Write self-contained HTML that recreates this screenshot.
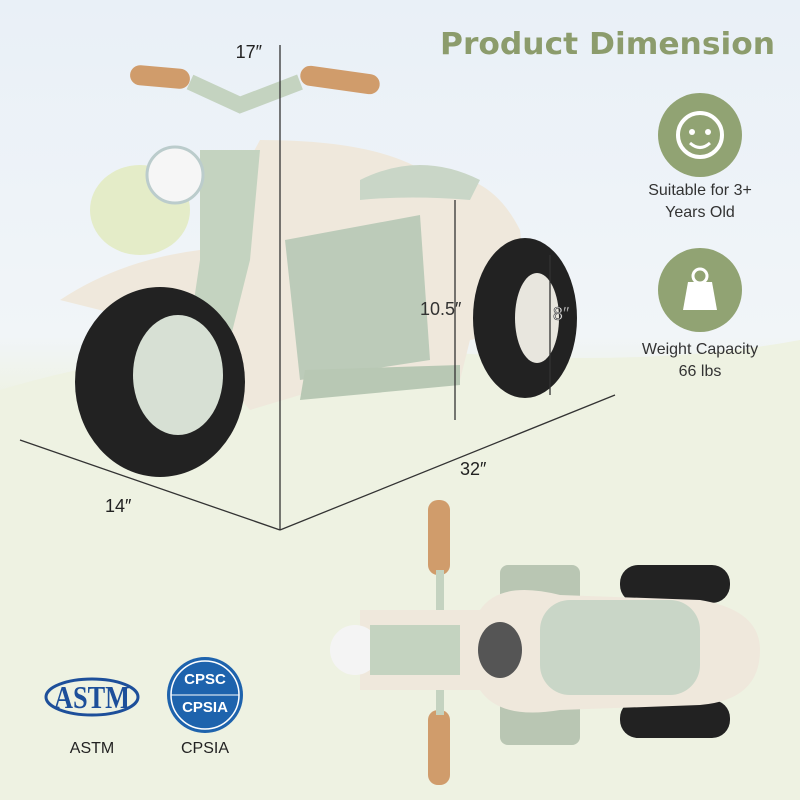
<!DOCTYPE html>
<html><head><meta charset="utf-8"><style>
body{margin:0;width:800px;height:800px;overflow:hidden;font-family:"Liberation Sans",sans-serif;}
</style></head><body>
<svg width="800" height="800" viewBox="0 0 800 800" xmlns="http://www.w3.org/2000/svg">
<defs>
<linearGradient id="bg" x1="0" y1="0" x2="0" y2="1">
<stop offset="0" stop-color="#e9f0f7"/><stop offset="0.42" stop-color="#f1f5f8"/><stop offset="0.5" stop-color="#eef2e3"/><stop offset="1" stop-color="#f3f5ec"/>
</linearGradient>
</defs>
<rect width="800" height="800" fill="url(#bg)"/>
<ellipse cx="140" cy="210" rx="50" ry="45" fill="#e4ecc8"/>
<path d="M0 390 Q200 330 420 350 T800 340 L800 800 L0 800Z" fill="#eef2e2"/>
<text x="440" y="54" font-size="30" font-weight="bold" fill="#8c9c6c" font-family="DejaVu Sans,sans-serif" textLength="335" lengthAdjust="spacingAndGlyphs">Product Dimension</text>
<!-- icons -->
<circle cx="700" cy="135" r="42" fill="#91a373"/>
<circle cx="700" cy="135" r="22" fill="none" stroke="#fff" stroke-width="4"/>
<circle cx="692" cy="132" r="3" fill="#fff"/><circle cx="708" cy="132" r="3" fill="#fff"/>
<path d="M690 143 Q700 152 710 143" stroke="#fff" stroke-width="3" fill="none"/>
<text x="700" y="195" font-size="16" fill="#333" text-anchor="middle">Suitable for 3+</text>
<text x="700" y="217" font-size="16" fill="#333" text-anchor="middle">Years Old</text>
<circle cx="700" cy="290" r="42" fill="#91a373"/>
<path d="M683 310 L688 282 L712 282 L717 310Z" fill="#fff"/>
<circle cx="700" cy="276" r="7" fill="none" stroke="#fff" stroke-width="3"/>
<text x="700" y="354" font-size="16" fill="#333" text-anchor="middle">Weight Capacity</text>
<text x="700" y="376" font-size="16" fill="#333" text-anchor="middle">66 lbs</text>
<!-- motorcycle -->
<path d="M60 300 Q120 260 200 250 L260 140 Q380 140 430 175 Q490 170 520 230 L530 330 L470 340 L460 380 L300 395 L250 410 L180 330 Z" fill="#efe8dc"/>
<path d="M360 180 Q420 150 480 180 L470 200 Q410 195 360 200Z" fill="#c9d6c7"/>
<path d="M285 240 L420 215 L430 360 L300 380 Z" fill="#bccbb9"/>
<path d="M305 370 L460 365 L460 385 L300 400Z" fill="#b8c8b4"/>
<path d="M200 150 L260 150 L250 260 L215 400 L180 395 L200 260Z" fill="#c4d3c0"/>
<rect x="130" y="67" width="60" height="20" rx="10" fill="#d09c6b" transform="rotate(5 160 77)"/>
<rect x="300" y="70" width="80" height="20" rx="10" fill="#d09c6b" transform="rotate(8 340 80)"/>
<path d="M190 82 L240 105 L300 82" stroke="#c4d3c0" stroke-width="16" fill="none"/>
<circle cx="175" cy="175" r="28" fill="#f6f6f6" stroke="#bcc" stroke-width="3"/>
<ellipse cx="160" cy="382" rx="85" ry="95" fill="#222"/>
<ellipse cx="178" cy="375" rx="45" ry="60" fill="#d7e0d4"/>
<ellipse cx="525" cy="318" rx="52" ry="80" fill="#222"/>
<ellipse cx="537" cy="318" rx="22" ry="45" fill="#e8e6de"/>
<!-- dimension lines -->
<g stroke="#333" stroke-width="1.3" fill="none">
<line x1="280" y1="45" x2="280" y2="530"/>
<line x1="20" y1="440" x2="280" y2="530"/>
<line x1="280" y1="530" x2="615" y2="395"/>
<line x1="455" y1="200" x2="455" y2="420"/>
<line x1="550" y1="255" x2="550" y2="395"/>
<line x1="492" y1="645" x2="735" y2="645"/>
<line x1="712" y1="585" x2="712" y2="705"/>
</g>
<g font-size="18" fill="#222">
<text x="262" y="58" text-anchor="end">17″</text>
<text x="105" y="512">14″</text>
<text x="460" y="475">32″</text>
<text x="420" y="315" fill="#333">10.5″</text>
<text x="553" y="320" fill="#f4f4f4" stroke="#333" stroke-width="0.6">8″</text>
<text x="686" y="598">6.5″</text>
<text x="724" y="656">11″</text>
</g>
<!-- top view -->
<rect x="428" y="500" width="22" height="75" rx="10" fill="#d09c6b"/>
<rect x="428" y="710" width="22" height="75" rx="10" fill="#d09c6b"/>
<rect x="436" y="570" width="8" height="145" fill="#c4d3c0"/>
<rect x="500" y="565" width="80" height="180" rx="8" fill="#b9c6b3"/>
<rect x="620" y="565" width="110" height="38" rx="18" fill="#222"/>
<rect x="620" y="700" width="110" height="38" rx="18" fill="#222"/>
<path d="M360 610 L480 610 Q500 580 560 595 L700 600 Q760 610 760 650 Q760 700 700 705 L560 710 Q500 720 480 690 L360 690Z" fill="#efe8dc"/>
<rect x="540" y="600" width="160" height="95" rx="30" fill="#c9d6c7"/>
<ellipse cx="355" cy="650" rx="25" ry="25" fill="#f4f4f4"/>
<rect x="370" y="625" width="90" height="50" fill="#c4d3c0"/>
<ellipse cx="500" cy="650" rx="22" ry="28" fill="#555"/>
<!-- logos -->
<ellipse cx="92" cy="697" rx="46" ry="18" fill="none" stroke="#1d4f9a" stroke-width="3"/>
<text x="92" y="708" font-size="32" font-weight="bold" fill="#1d4f9a" text-anchor="middle" font-family="Liberation Serif,serif" textLength="76" lengthAdjust="spacingAndGlyphs">ASTM</text>
<text x="92" y="753" font-size="16" fill="#222" text-anchor="middle">ASTM</text>
<circle cx="205" cy="695" r="38" fill="#1e63ad"/>
<circle cx="205" cy="695" r="34" fill="none" stroke="#fff" stroke-width="1.5"/>
<line x1="171" y1="695" x2="239" y2="695" stroke="#fff" stroke-width="1"/>
<text x="205" y="684" font-size="15" font-weight="bold" fill="#fff" text-anchor="middle">CPSC</text>
<text x="205" y="712" font-size="15" font-weight="bold" fill="#fff" text-anchor="middle">CPSIA</text>
<text x="205" y="753" font-size="16" fill="#222" text-anchor="middle">CPSIA</text>
</svg>
</body></html>
